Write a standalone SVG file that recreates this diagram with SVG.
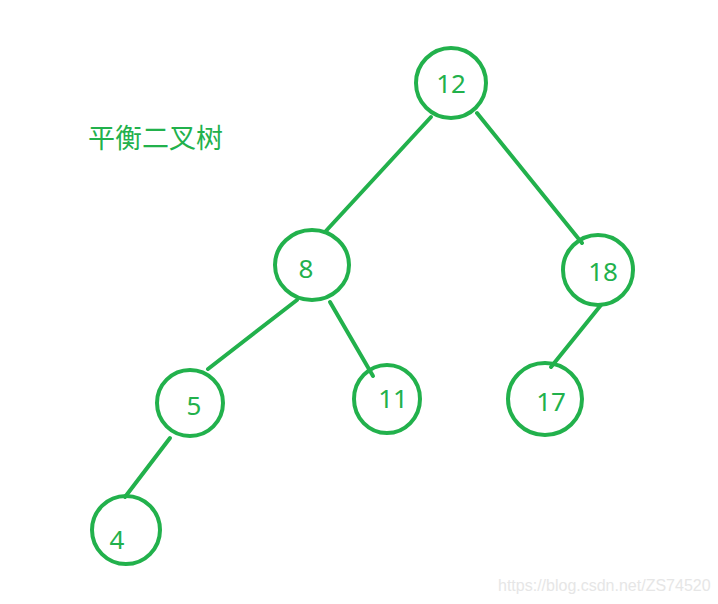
<svg xmlns="http://www.w3.org/2000/svg" width="718" height="604" viewBox="0 0 718 604">
<style>
.n{fill:none;stroke:#22B14C;stroke-width:4}
.t{fill:#22B14C;font-family:"Noto Sans","Liberation Sans",sans-serif;font-size:26px;text-anchor:middle}
.e{stroke:#22B14C;stroke-width:4;stroke-linecap:round}
</style>
<rect width="718" height="604" fill="#fff"/>
<text x="88" y="148" style="fill:#22B14C;font-family:'Noto Sans CJK SC',sans-serif;font-size:27px">平衡二叉树</text>
<g id="edges">
<line class="e" x1="431" y1="117" x2="325" y2="232"/>
<line class="e" x1="477" y1="113" x2="582" y2="243"/>
<line class="e" x1="297" y1="300" x2="208" y2="369"/>
<line class="e" x1="330" y1="302" x2="373" y2="376"/>
<line class="e" x1="601" y1="305" x2="551" y2="367"/>
<line class="e" x1="170" y1="438" x2="125" y2="497"/>
</g>
<g id="n12"><ellipse class="n" cx="451" cy="83" rx="35" ry="35"/><text class="t" x="451" y="93">12</text></g>
<g id="n8"><ellipse class="n" cx="312" cy="265" rx="37" ry="35"/><text class="t" x="306" y="278">8</text></g>
<g id="n18"><ellipse class="n" cx="598" cy="270" rx="35" ry="35"/><text class="t" x="603" y="281">18</text></g>
<g id="n5"><ellipse class="n" cx="190" cy="403" rx="33" ry="33"/><text class="t" x="194" y="415">5</text></g>
<g id="n11"><ellipse class="n" cx="387" cy="399" rx="33" ry="34"/><text class="t" x="393" y="408">11</text></g>
<g id="n17"><ellipse class="n" cx="545" cy="399" rx="37" ry="36"/><text class="t" x="551" y="411">17</text></g>
<g id="n4"><ellipse class="n" cx="126" cy="530" rx="34" ry="34"/><text class="t" x="117" y="549">4</text></g>
<text x="498" y="591" style="fill:#e6e6e6;font-family:'Liberation Sans',sans-serif;font-size:16px">https://blog.csdn.net/ZS74520</text>
</svg>
